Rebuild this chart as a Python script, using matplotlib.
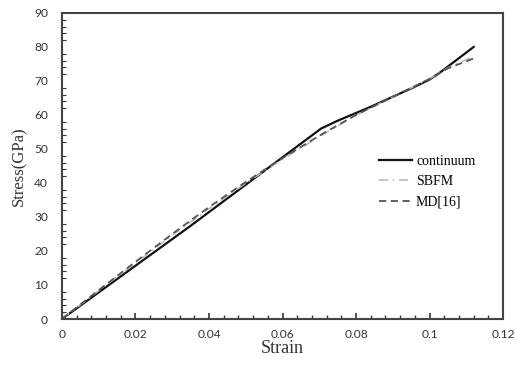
import matplotlib
matplotlib.use("Agg")
import matplotlib.pyplot as plt
from matplotlib.ticker import MultipleLocator, FuncFormatter

# Stress-strain data
strain_cont = [0, 0.035, 0.0705, 0.075, 0.084, 0.096, 0.100, 0.103, 0.112]
stress_cont = [0, 27.4, 56.0, 58.3, 62.4, 68.3, 70.4, 72.6, 80.0]

strain_sbfm = [0, 0.01, 0.02, 0.03, 0.04, 0.05, 0.06, 0.07, 0.08, 0.09, 0.10, 0.105, 0.112]
stress_sbfm = [0, 8.3, 16.5, 24.6, 32.4, 39.9, 47.0, 53.6, 59.9, 65.3, 70.6, 73.9, 77.2]

strain_md = [0, 0.01, 0.02, 0.03, 0.04, 0.05, 0.06, 0.07, 0.08, 0.09, 0.10, 0.105, 0.112]
stress_md = [0, 8.5, 16.8, 25.0, 32.9, 40.3, 47.3, 53.9, 60.0, 65.3, 70.6, 73.7, 76.6]

serif = ["Liberation Serif", "DejaVu Serif"]
sans = ["Lato", "DejaVu Sans"]

fig = plt.figure(figsize=(5.16, 3.69), dpi=100)
ax = fig.add_axes([0.120, 0.1355, 0.855, 0.8295])

ax.plot(strain_cont, stress_cont, color="#111111", lw=1.6, label="continuum")
ax.plot(strain_sbfm, stress_sbfm, color="#b8b8b8", lw=1.1, ls=(0, (6, 3, 1, 3)), label="SBFM")
ax.plot(strain_md, stress_md, color="#555555", lw=1.3, ls=(0, (4, 2.5)), label="MD[16]")

ax.set_xlim(0, 0.12)
ax.set_ylim(0, 90)
ax.xaxis.set_major_locator(MultipleLocator(0.02))
ax.xaxis.set_minor_locator(MultipleLocator(0.004))
ax.yaxis.set_major_locator(MultipleLocator(10))
ax.yaxis.set_minor_locator(MultipleLocator(2))
ax.xaxis.set_major_formatter(FuncFormatter(lambda v, p: f"{v:.2f}".rstrip("0").rstrip(".") if v else "0"))

ax.tick_params(axis="both", which="both", direction="in", color="#333333")
ax.tick_params(axis="x", which="major", length=4, width=1.2, pad=7)
ax.tick_params(axis="x", which="minor", length=3, width=1.0)
ax.tick_params(axis="y", which="major", length=0, pad=10)
ax.tick_params(axis="y", which="minor", length=3, width=0.8)
for lab in ax.get_xticklabels() + ax.get_yticklabels():
    lab.set_family(sans)
    lab.set_fontsize(8.6)
    lab.set_color("#333333")

for sp in ax.spines.values():
    sp.set_color("#444444")
    sp.set_linewidth(1.5)

ax.set_xlabel("Strain", family=serif, fontsize=13, color="#333333", labelpad=0)
ax.set_ylabel("Stress(GPa)", family=serif, fontsize=12, color="#333333", labelpad=5)

ax.legend(loc="upper left", bbox_to_anchor=(0.705, 0.555), frameon=False,
          prop={"family": serif, "size": 10}, handlelength=2.4,
          handletextpad=0.3, labelspacing=0.55, borderaxespad=0)

fig.savefig("out.png", dpi=100)
